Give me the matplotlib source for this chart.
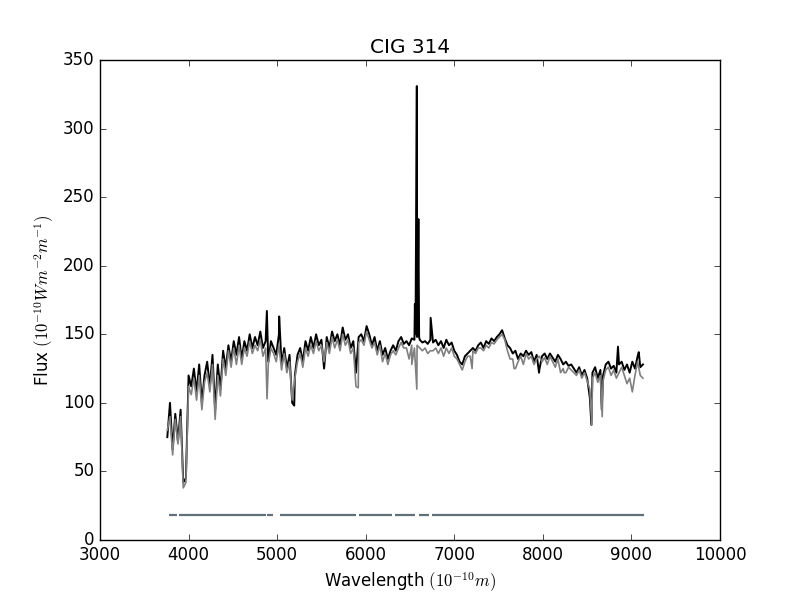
import numpy as np
import matplotlib
matplotlib.use('Agg')
import matplotlib.pyplot as plt

plt.style.use('classic')

# wavelength grid of the read-off values (Angstrom)
wave = np.arange(3760, 9131, 30)

# observed spectrum (black), read every 30 A
flux_obs = [
    75, 100, 66, 92, 72, 95, 42, 45, 120, 112,
    125, 108, 128, 100, 120, 130, 112, 135, 95, 128,
    110, 138, 125, 142, 130, 145, 135, 148, 132, 145,
    138, 150, 140, 148, 142, 152, 140, 145, 130, 145,
    140, 135, 150, 128, 140, 125, 135, 100, 120, 135,
    140, 130, 145, 138, 148, 140, 150, 142, 146, 125,
    148, 140, 152, 145, 150, 142, 155, 146, 150, 140,
    145, 122, 148, 150, 145, 156, 150, 142, 148, 138,
    145, 135, 140, 132, 138, 142, 138, 145, 148, 143,
    145, 142, 147, 146, 148, 146, 144, 145, 143, 146,
    144, 146, 142, 145, 140, 146, 142, 144, 138, 135,
    130, 128, 134, 136, 138, 140, 138, 142, 144, 140,
    145, 143, 147, 145, 148, 150, 153, 147, 142, 140,
    136, 138, 132, 136, 134, 138, 135, 137, 130, 135,
    124, 134, 136, 132, 136, 133, 130, 135, 132, 128,
    130, 127, 128, 125, 122, 126, 120, 124, 118, 104,
    122, 126, 118, 124, 120, 128, 130, 125, 127, 122,
    128, 130, 124, 128, 122, 130, 125, 134, 126, 128,
]

# model spectrum (grey)
flux_mod = [
    80, 90, 62, 88, 70, 90, 38, 42, 112, 106,
    118, 102, 120, 95, 115, 122, 108, 128, 88, 120,
    105, 132, 120, 138, 126, 140, 128, 142, 128, 140,
    134, 145, 136, 142, 138, 146, 134, 140, 128, 140,
    136, 130, 142, 124, 136, 122, 130, 102, 118, 130,
    136, 126, 140, 134, 142, 136, 145, 138, 142, 130,
    144, 136, 148, 140, 146, 138, 150, 142, 146, 136,
    140, 112, 144, 146, 142, 152, 146, 140, 144, 135,
    142, 130, 136, 128, 135, 138, 135, 140, 144, 140,
    140, 132, 142, 140, 142, 140, 138, 140, 136, 138,
    138, 140, 136, 140, 134, 140, 136, 140, 134, 132,
    128, 124, 130, 134, 134, 138, 136, 140, 140, 138,
    142, 140, 144, 143, 146, 148, 150, 146, 138, 132,
    132, 125, 130, 134, 128, 136, 132, 134, 128, 132,
    134, 130, 133, 128, 134, 130, 126, 132, 122, 125,
    122, 126, 124, 122, 120, 124, 118, 122, 116, 110,
    118, 122, 115, 120, 116, 124, 126, 120, 124, 118,
    122, 126, 120, 114, 118, 108, 120, 130, 120, 118,
]

# narrow lines: emission in the data, absorption in the model
obs_line_wave = [4884, 5023, 5193, 6555, 6562, 6577, 6586, 6595, 6603, 6733, 7957, 8548, 8665, 8848, 9083]
obs_line_flux = [167, 163, 98, 172, 150, 331, 160, 234, 148, 162, 122, 84, 95, 141, 137]
mod_line_wave = [4886, 5916, 6520, 6577, 7201, 7675, 8240, 8553, 8670]
mod_line_flux = [103, 111, 128, 110, 125, 125, 122, 84, 90]

# masked regions used in the fit
mask_start = [3781, 3894, 4883, 5029, 5920, 6325, 6607, 6754]
mask_end = [3871, 4871, 4958, 5886, 6300, 6551, 6717, 9144]
mask_level = 18


def merged(w, f, lw, lf):
    x = np.concatenate([w, lw])
    y = np.concatenate([f, lf])
    order = np.argsort(x, kind='stable')
    return x[order], y[order]


x_obs, y_obs = merged(wave, flux_obs, obs_line_wave, obs_line_flux)
x_mod, y_mod = merged(wave, flux_mod, mod_line_wave, mod_line_flux)

fig = plt.figure(figsize=(8, 6), dpi=100)
ax = fig.add_subplot(111)
ax.plot(x_obs, y_obs, color='k', lw=1.4)
ax.plot(x_mod, y_mod, color='0.5', lw=1.2)
for a, b in zip(mask_start, mask_end):
    ax.plot([a, b], [mask_level, mask_level], color='#617078', lw=1.6,
            solid_capstyle='butt')

ax.set_xlim(3000, 10000)
ax.set_ylim(0, 350)
ax.set_title('CIG 314')
ax.set_xlabel(r'Wavelength $(10^{-10}m)$')
ax.set_ylabel(r'Flux $(10^{-10}Wm^{-2}m^{-1})$')
fig.savefig('out.png', dpi=100)
